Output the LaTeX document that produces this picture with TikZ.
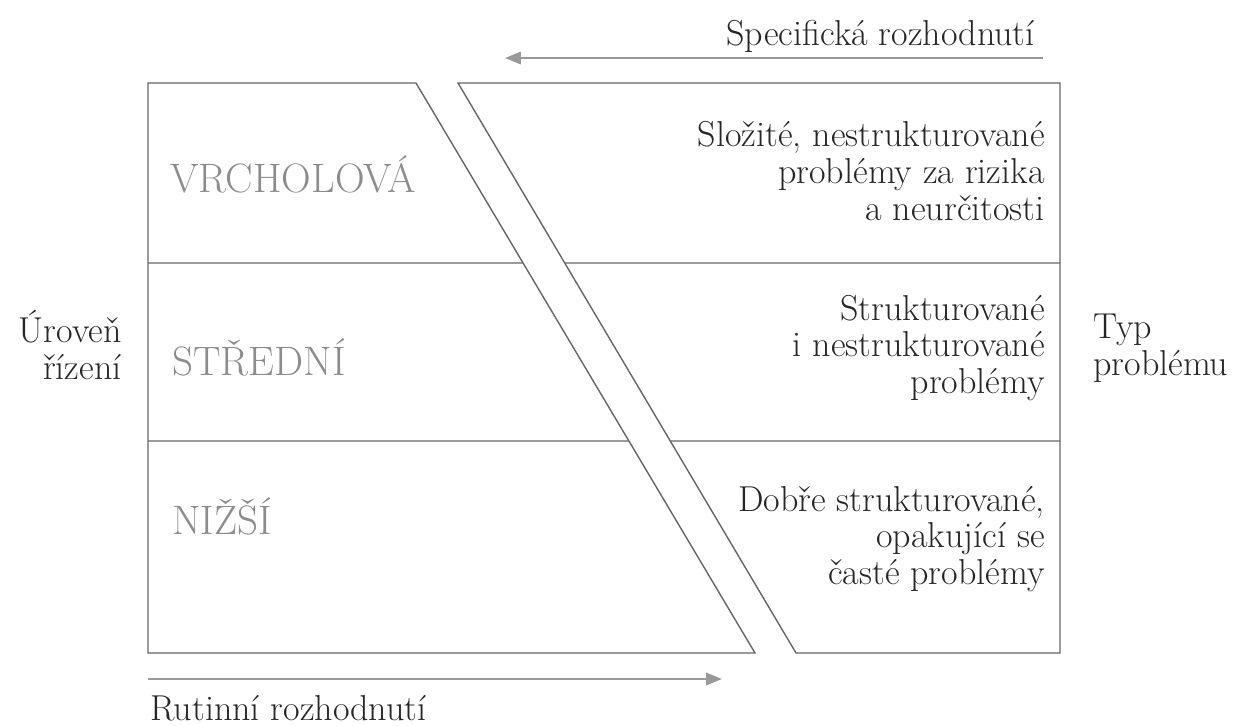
\documentclass[tikz,border=0pt]{standalone}
\usepackage{tikz}
\usetikzlibrary{arrows.meta,positioning,calc}

\begin{document}
\begin{tikzpicture}[
  x=0.02cm, y=-0.02cm,
  frame/.style={draw=black!60, line width=0.8pt, line join=miter},
  level/.style={anchor=base west, inner sep=0pt, text=black!45,
    font=\fontsize{23.4}{26}\selectfont},
  desc/.style={anchor=east, align=right, inner sep=0pt, text=black!85,
    font=\fontsize{20.5}{21}\selectfont},
  side/.style={inner sep=0pt, text=black!85, font=\fontsize{20.5}{21}\selectfont},
  arr/.style={-{Triangle[length=9pt,width=7pt]}, line width=1.3pt, black!40}
]
\useasboundingbox (0,0) rectangle (1236,725);

% Corners of the two parts
\coordinate (ltl) at (148,83);
\coordinate (ltr) at (416,83);
\coordinate (lbr) at (755,653);
\coordinate (lbl) at (148,653);
\coordinate (rtl) at (458,83);
\coordinate (rtr) at (1060,83);
\coordinate (rbr) at (1060,653);
\coordinate (rbl) at (796,653);

% Left part - levels
\draw[frame] (ltl) -- (ltr) -- (lbr) -- (lbl) -- cycle;
\draw[frame] (148,263) -- ($(ltr)!0.3158!(lbr)$);
\draw[frame] (148,441) -- ($(ltr)!0.628!(lbr)$);

% Right part - problems
\draw[frame] (rtl) -- (rtr) -- (rbr) -- (rbl) -- cycle;
\draw[frame] ($(rtl)!0.3158!(rbl)$) -- (1060,263);
\draw[frame] ($(rtl)!0.628!(rbl)$) -- (1060,441);

% Level names
\node[level] (top) at (170,192) {VRCHOLOVÁ};
\node[level] (mid) at (172,375) {STŘEDNÍ};
\node[level] (low) at (172,534) {NIŽŠÍ};

% Problem types
\node[desc] (ptop) at (1045,171) {Složité, nestrukturované\\problémy za rizika\\a neurčitosti};
\node[desc] (pmid) at (1045,348) {Strukturované\\i nestrukturované\\problémy};
\node[desc] (plow) at (1045,539) {Dobře strukturované,\\opakující se\\časté problémy};

% Side labels
\node[side, anchor=east, align=right] (lvl) at (122,345) {Úroveň\\řízení};
\node[side, anchor=west, align=left] (typ) at (1093,348) {Typ\\problému};

% Decisions
\node[side, anchor=base east] (spec) at (1035,45) {Specifická rozhodnutí};
\node[side, anchor=base west] (rut) at (150,720) {Rutinní rozhodnutí};
\coordinate (sa) at (1043,58);
\coordinate (se) at (505,58);
\coordinate (ra) at (148,679);
\coordinate (re) at (722,679);
\draw[arr] (sa) -- (se);
\draw[arr] (ra) -- (re);

\end{tikzpicture}
\end{document}
